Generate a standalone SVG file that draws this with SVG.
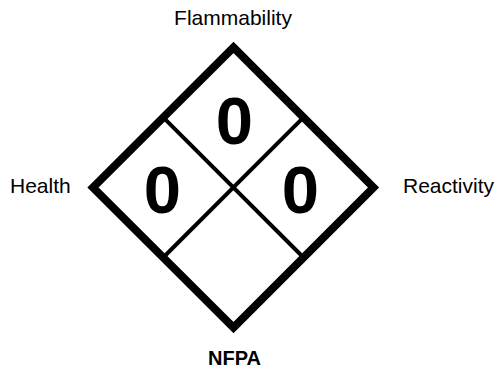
<svg xmlns="http://www.w3.org/2000/svg" width="494" height="370" viewBox="0 0 494 370">
<style>
.lbl{font-family:"Liberation Sans",Arial,sans-serif;font-size:21px;fill:#000}
.num{font-family:"Liberation Sans",Arial,sans-serif;font-size:67px;font-weight:bold;fill:#000;text-anchor:middle}
.outer{fill:#fff;stroke:#000;stroke-width:8;stroke-linejoin:miter}
.inner{stroke:#000;stroke-width:4;fill:none}
</style>
<rect width="494" height="370" fill="#fff"/>
<g id="diamond">
<polygon class="outer" points="233.5,47.3 373.5,187.5 233.5,327.5 93,187.5"/>
</g>
<g id="connectors">
<line class="inner" x1="163.2" y1="117.4" x2="303.5" y2="257.5"/>
<line class="inner" x1="303.5" y1="117.4" x2="163.2" y2="257.5"/>
</g>
<g id="flammability">
<text class="lbl" x="233" y="25" text-anchor="middle">Flammability</text>
<text class="num" x="234.5" y="144">0</text>
</g>
<g id="health">
<text class="lbl" x="10" y="193">Health</text>
<text class="num" x="162.5" y="213">0</text>
</g>
<g id="reactivity">
<text class="lbl" x="403" y="193">Reactivity</text>
<text class="num" x="300.5" y="213">0</text>
</g>
<g id="special">
<text class="lbl" x="234.5" y="365" text-anchor="middle" font-weight="bold" style="font-size:20px">NFPA</text>
</g>
</svg>
